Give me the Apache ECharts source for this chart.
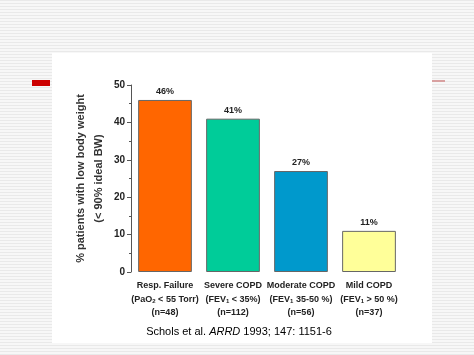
<!DOCTYPE html>
<html><head><meta charset="utf-8">
<script src="https://cdn.jsdelivr.net/npm/echarts@6/dist/echarts.min.js"></script>
<style>html,body{margin:0;padding:0;background:#fff}#c{width:474px;height:355px}</style>
</head><body><div id="c"></div>
<script>
const categories = ['Resp. Failure', 'Severe COPD', 'Moderate COPD', 'Mild COPD'];
const subPrefix = ['(PaO', '(FEV', '(FEV', '(FEV'];
const subIndex = ['2', '1', '1', '1'];
const subSuffix = [' < 55 Torr)', ' < 35%)', ' 35-50 %)', ' > 50 %)'];
const nLabels = ['(n=48)', '(n=112)', '(n=56)', '(n=37)'];
const values = [46, 41, 27, 11];
const barLabels = ['46%', '41%', '27%', '11%'];
const colors = ['#FF6600', '#00CC99', '#0099CC', '#FFFF99'];
const yTicks = [0, 10, 20, 30, 40, 50];

const FF = '"Liberation Sans", Arial, sans-serif';
const chart = echarts.init(document.getElementById('c'));
const stripes = [];
for (let y = 0; y < 355; y += 3) {
  stripes.push({type:'rect', silent:true, z:-10, shape:{x:0,y:y,width:474,height:1}, style:{fill:'#e9e9e9'}});
}
chart.setOption({
  backgroundColor: '#f7f7f7',
  animation: false,
  graphic: stripes.concat([
    {type:'rect', z:-5, silent:true, shape:{x:52,y:53,width:380,height:290}, style:{fill:'#ffffff'}},
    {type:'rect', z:-5, silent:true, shape:{x:32,y:80,width:18,height:6}, style:{fill:'#cc0000'}},
    {type:'rect', z:-5, silent:true, shape:{x:432,y:80,width:13,height:2}, style:{fill:'#d8a0a0'}},
    {type:'text', x:239, y:326, style:{
      text:'Schols et al. {i|ARRD} 1993; 147: 1151-6', align:'center',
      font:'11px ' + FF, fill:'#000',
      rich:{i:{fontStyle:'italic', fontSize:11, fontFamily:FF, fill:'#000'}}
    }}
  ]),
  grid: {left:131, right:71, top:85, bottom:83},
  xAxis: {
    type:'category', data: categories,
    axisLine:{show:false}, axisTick:{show:false},
    axisLabel:{
      interval:0, margin:7,
      formatter:(v, i) => '{b|' + v + '}\n{c|' + subPrefix[i] + '}{s|' + subIndex[i] + '}{c|' + subSuffix[i] + '}\n{c|' + nLabels[i] + '}',
      rich:{
        b:{fontSize:9, fontWeight:'bold', fontFamily:FF, color:'#222', lineHeight:13.5},
        c:{fontSize:9, fontWeight:'bold', fontFamily:FF, color:'#222', lineHeight:13.5},
        s:{fontSize:6, fontWeight:'bold', fontFamily:FF, color:'#222', lineHeight:13.5, padding:[5,0,0,0]}
      }
    }
  },
  yAxis: {
    type:'value', min:0, max:50, interval:10,
    name:'% patients with low body weight\n(< 90% ideal BW)',
    nameLocation:'middle', nameRotate:90, nameGap:23, nameMoveOverlap:false,
    nameTextStyle:{fontSize:11, fontWeight:'bold', fontFamily:FF, color:'#333', lineHeight:18},
    axisLine:{show:true, lineStyle:{color:'#555', width:1}},
    axisTick:{show:true, length:4, lineStyle:{color:'#555'}},
    minorTick:{show:true, splitNumber:2, length:2, lineStyle:{color:'#555'}},
    splitLine:{show:false},
    axisLabel:{fontSize:10, fontWeight:'bold', fontFamily:FF, color:'#222', margin:6,
      formatter:(v)=> yTicks.includes(v) ? String(v) : ''}
  },
  series: [{
    type:'bar', barCategoryGap:'21%',
    data: values.map((v,i)=>({value:v, itemStyle:{color:colors[i]}})),
    itemStyle:{borderColor:'#666', borderWidth:1},
    label:{show:true, position:'top', distance:4, formatter:(p)=>barLabels[p.dataIndex],
      fontSize:9, fontWeight:'bold', fontFamily:FF, color:'#222'}
  }]
});
</script></body></html>
